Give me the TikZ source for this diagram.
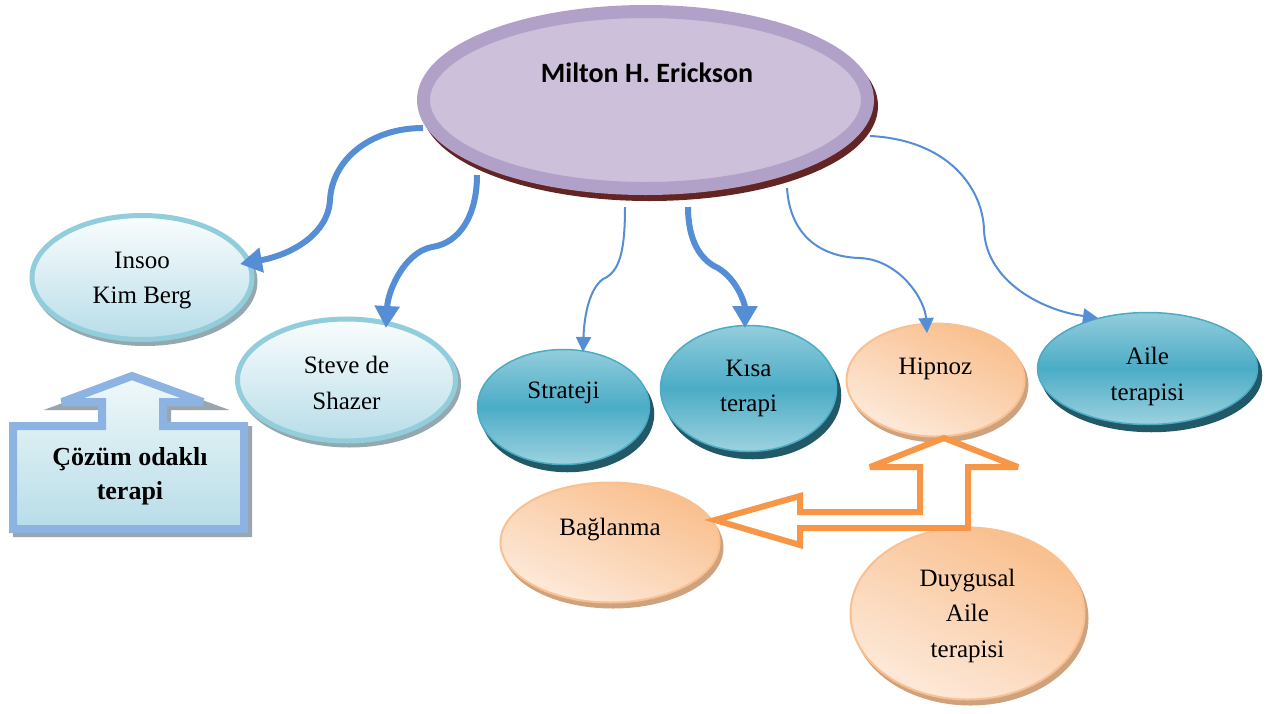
\documentclass[tikz,border=0pt]{standalone}
\usepackage{fontspec}
\setmainfont{Liberation Serif}
\newfontfamily\calibri{Carlito}
\usetikzlibrary{shapes.geometric,arrows.meta,calc}
\pgfdeclarelayer{front}
\pgfsetlayers{main,front}
\definecolor{conn}{HTML}{558ED5}
\definecolor{lavOut}{HTML}{B1A0C7}
\definecolor{lavIn}{HTML}{CCC0DA}
\definecolor{lavSh}{HTML}{632523}
\definecolor{lbBorder}{HTML}{92CDDC}
\definecolor{lbTop}{HTML}{FAFDFE}
\definecolor{lbBot}{HTML}{B7DDE8}
\definecolor{lbSh}{HTML}{93A9AE}
\definecolor{tlTop}{HTML}{93CDDC}
\definecolor{tlMid}{HTML}{4BACC6}
\definecolor{tlBot}{HTML}{9DD2DF}
\definecolor{tlSh}{HTML}{215968}
\definecolor{tlBorder}{HTML}{4BACC6}
\definecolor{pcD}{HTML}{F9BE8C}
\definecolor{pcL}{HTML}{FDEADB}
\definecolor{pcBorder}{HTML}{FAC090}
\definecolor{pcSh}{HTML}{CFA27E}
\definecolor{orArrow}{HTML}{F79646}
\definecolor{coBorder}{HTML}{8DB3E2}
\definecolor{coTop}{HTML}{F0F8FA}
\definecolor{coBot}{HTML}{B7DDE8}
\definecolor{coSh}{HTML}{9AA6AB}
\begin{document}
\begin{tikzpicture}[x=1pt,y=-1pt,
  txt/.style={font=\fontsize{25}{35.5}\selectfont, align=center, text=black},
  shadowed/.style n args={4}{preaction={draw=#1, fill=#1, line width=#4, transform canvas={shift={(#2,#3)}}}},
  lightell/.style={ellipse, inner sep=0pt, draw=lbBorder, line width=5pt,
    top color=lbTop, bottom color=lbBot, shadowed={lbSh}{3pt}{-4pt}{5pt}},
  tealell/.style={ellipse, inner sep=0pt, draw=tlBorder, line width=1.5pt,
    top color=tlTop, bottom color=tlBot, middle color=tlMid, shadowed={tlSh}{4pt}{-7pt}{1.5pt}},
  peachell/.style={ellipse, inner sep=0pt, draw=pcBorder, line width=2pt,
    top color=pcD, bottom color=pcL, shading angle=-25, shadowed={pcSh}{3pt}{-5pt}{2pt}},
  thickconn/.style={draw=conn, line width=6pt, -{Triangle[length=22pt,width=24pt]}},
  thinconn/.style={draw=conn, line width=2pt, -{Triangle[length=15pt,width=15pt]}},
  ]
\useasboundingbox (0,0) rectangle (1277,713);
\fill[white] (0,0) rectangle (1277,713);

% central ellipse (front layer, above connectors)
\begin{pgfonlayer}{front}
\node[ellipse, inner sep=0pt, minimum width=444pt, minimum height=177pt, draw=lavOut,
  line width=13pt, fill=lavIn, shadowed={lavSh}{4pt}{-6pt}{13pt}] (milton) at (645.5,100) {};
\node[font=\calibri\bfseries\fontsize{28}{34}\selectfont] (miltonlbl) at (647,73) {Milton H. Erickson};
\end{pgfonlayer}

% callout
\draw[coBorder, line width=8pt, miter limit=4, top color=coTop, bottom color=coBot,
  shadowed={coSh}{4pt}{-4pt}{8pt}]
  (13,426) -- (102,426) -- (102,402) -- (62,402) -- (132,376) -- (203,402) -- (163,402)
  -- (163,426) -- (244,426) -- (244,529) -- (13,529) -- cycle;
\node[font=\bfseries\fontsize{26}{34}\selectfont, align=center] (cozum) at (130,476) {Çözüm odaklı\\terapi};

% light blue ellipses
\node[lightell, minimum width=220pt, minimum height=124pt,
  label={[txt, yshift=-3pt]center:Insoo\\Kim Berg}] (insoo) at (142,277.5) {};
\node[lightell, minimum width=218pt, minimum height=122pt,
  label={[txt, yshift=-3pt]center:Steve de\\Shazer}] (steve) at (346.5,380) {};

% teal ellipses
\node[tealell, minimum width=172pt, minimum height=115pt,
  label={[txt, yshift=14pt]center:Strateji}] (strateji) at (563.5,407) {};
\node[tealell, minimum width=176pt, minimum height=126pt, txt] (kisa) at (748.5,388.5) {Kısa\\terapi};
\node[tealell, minimum width=220pt, minimum height=112pt,
  label={[txt, yshift=-8pt]center:Aile\\terapisi}] (aile) at (1147.5,368.5) {};

% peach ellipses
\node[peachell, minimum width=178pt, minimum height=113pt,
  label={[txt, yshift=11pt]center:Hipnoz}] (hipnoz) at (935.5,380) {};
\node[peachell, minimum width=219pt, minimum height=120pt,
  label={[txt, yshift=13pt]center:Bağlanma}] (baglanma) at (610,542.5) {};
\node[peachell, minimum width=234pt, minimum height=172pt,
  label={[txt, yshift=-2pt]center:Duygusal\\Aile\\terapisi}] (duygusal) at (967.5,613.5) {};

% orange left-up arrow
\draw[orArrow, line width=6pt, fill=white, miter limit=4]
  (715,520) -- (800,496) -- (800,512) -- (920,512) -- (920,467) -- (870,467) -- (944,438)
  -- (1018,467) -- (968,467) -- (968,528) -- (800,528) -- (800,545) -- cycle;

% connectors
\draw[thickconn] ($(milton)+(-222.5,28)$) .. controls (370,128) and (332,160) .. (330,200)
  .. controls (328,235) and (290,255) .. ($(insoo)+(98,-13.5)$);
\draw[thickconn] ($(milton)+(-168.5,75)$) .. controls (477,215) and (460,243) .. (432,247)
  .. controls (405,252) and (388,290) .. ($(steve)+(39.5,-52)$);
\draw[thinconn] ($(milton)+(-20.5,107)$) .. controls (625,250) and (620,272) .. (603,279)
  .. controls (588,290) and (584,320) .. ($(strateji)+(19.5,-55)$);
\draw[thickconn] ($(milton)+(42.5,107)$) .. controls (688,240) and (700,260) .. (718,268)
  .. controls (738,280) and (745,305) .. ($(kisa)+(-3.5,-60.5)$);
\draw[thinconn] ($(milton)+(141.5,88)$) .. controls (790,235) and (820,257) .. (860,258)
  .. controls (900,260) and (925,300) .. ($(hipnoz)+(-8.5,-47)$);
\draw[thinconn] ($(milton)+(224.5,36)$) .. controls (950,140) and (983,190) .. (984,230)
  .. controls (986,280) and (1040,310) .. ($(aile)+(-49.5,-50.5)$);
\end{tikzpicture}
\end{document}
